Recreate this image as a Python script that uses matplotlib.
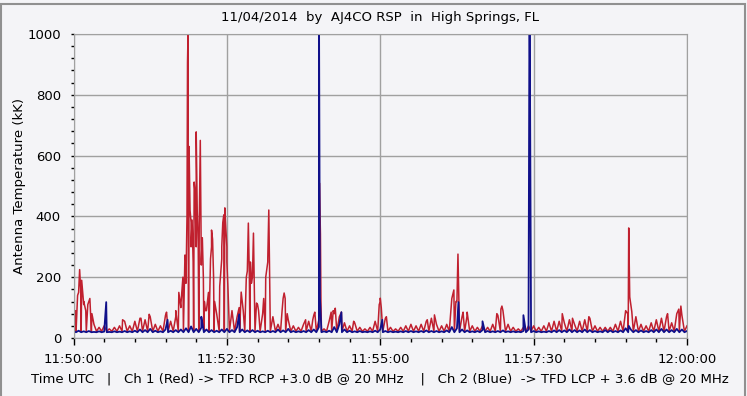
import numpy as np
import matplotlib
matplotlib.use("Agg")
import matplotlib.pyplot as plt
from matplotlib.ticker import MultipleLocator, FuncFormatter
from matplotlib.patches import Rectangle

# seconds after 11:50:00 UTC
grass_t = np.arange(0, 601, 5)
red_grass = [60, 150, 110, 120, 45, 35, 40, 30, 35, 40,
             55, 40, 55, 65, 60, 70, 45, 40, 75, 55,
             70, 100, 250, 380, 300, 240, 90, 300, 80, 260,
             300, 90, 70, 120, 220, 200, 110, 80, 250, 70,
             45, 130, 60, 40, 35, 45, 55, 75, 60, 30,
             55, 80, 70, 50, 40, 50, 35, 30, 35, 55,
             120, 65, 35, 30, 35, 40, 45, 40, 45, 55,
             65, 45, 40, 45, 130, 120, 70, 75, 40, 35,
             40, 35, 45, 75, 90, 45, 35, 30, 35, 40,
             40, 35, 40, 50, 55, 55, 50, 60, 45, 55,
             60, 65, 40, 35, 35, 35, 45, 55, 90, 110,
             70, 45, 40, 50, 60, 65, 70, 50, 80, 75, 40]
blue_grass = [22, 24, 22, 23, 20, 22, 21, 20, 22, 21,
              23, 22, 24, 28, 26, 30, 24, 22, 28, 24,
              26, 28, 32, 38, 30, 34, 28, 26, 24, 28,
              30, 26, 36, 28, 25, 26, 24, 22, 24, 23,
              28, 25, 30, 23, 22, 23, 26, 28, 36, 22,
              24, 36, 45, 28, 24, 22, 23, 21, 22, 24,
              28, 23, 22, 21, 22, 23, 23, 22, 23, 25,
              23, 23, 22, 25, 36, 32, 28, 25, 22, 23,
              26, 23, 22, 23, 25, 22, 22, 21, 23, 28,
              23, 22, 21, 23, 25, 26, 25, 28, 26, 25,
              28, 26, 23, 22, 26, 25, 23, 25, 32, 28,
              26, 25, 23, 26, 28, 30, 28, 26, 30, 28, 23]

red_peak_t = [2, 4, 6, 7, 8, 10, 12, 14, 16, 18, 48, 66, 74, 91,
              100, 103, 105, 107, 109, 110, 111, 111.5, 112, 113, 114, 115, 116,
              117, 118, 119, 120, 121, 122, 123, 124, 125, 126, 127, 128, 129,
              132, 134, 135, 136, 137, 138,
              143, 145, 146, 147, 148, 149, 150, 151,
              162, 164, 166, 169, 171, 172, 173, 174, 176, 177, 179, 181,
              186, 188, 190, 191, 192, 204, 206, 207, 209,
              227, 234, 236, 240.5, 241.5, 242, 252, 254, 256, 262, 274,
              299, 300, 301, 306, 346, 353, 370, 372, 374, 376, 377, 381, 385,
              414, 418, 419, 420, 478, 488, 504, 542, 543, 544, 546, 581, 592, 594]
red_peak_v = [90, 140, 225, 160, 190, 120, 90, 110, 130, 80, 60, 65, 78, 85,
              90, 150, 108, 200, 273, 180, 400, 907, 1000, 630, 420, 300, 388,
              250, 513, 475, 678, 420, 300, 380, 650, 260, 330, 200, 120, 90,
              150, 260, 355, 325, 200, 120,
              170, 300, 380, 405, 428, 360, 250, 170,
              100, 151, 90, 200, 378, 200, 250, 180, 345, 140, 115, 90,
              130, 200, 260, 421, 160, 90, 148, 130, 80,
              60, 60, 85, 510, 342, 120, 85, 90, 98, 85, 55,
              110, 131, 100, 70, 60, 76, 130, 158, 120, 276, 100, 85, 85,
              80, 95, 105, 90, 80, 65, 70, 80, 362, 135, 87, 80, 95, 105]
blue_peak_t = [32, 92, 125, 162, 240, 241, 262, 302, 376.5, 400, 440, 446, 543]
blue_peak_v = [118, 60, 70, 78, 1200, 135, 85, 60, 118, 55, 75, 1200, 40]

red_floor = 22
blue_floor = 19


def build(peak_t, peak_v, grass, floor):
    t = list(grass_t) + list(grass_t[:-1] + 2.5) + list(peak_t)
    v = list(grass) + [floor] * (len(grass_t) - 1) + list(peak_v)
    order = np.argsort(t, kind="stable")
    return np.array(t)[order], np.array(v)[order]


rt, rv = build(red_peak_t, red_peak_v, red_grass, red_floor)
bt, bv = build(blue_peak_t, blue_peak_v, blue_grass, blue_floor)

bg = "#f4f4f7"
fig = plt.figure(figsize=(7.47, 3.96), dpi=100, facecolor=bg)
ax = fig.add_axes([73.5 / 747, 58 / 396, 613.5 / 747, 304 / 396])
ax.set_facecolor(bg)

ax.plot(rt, rv, color="#c0202f", lw=1.1)
ax.plot(bt, bv, color="#10108a", lw=1.3)

ax.set_xlim(0, 600)
ax.set_ylim(0, 1000)
ax.xaxis.set_major_locator(MultipleLocator(150))
ax.xaxis.set_minor_locator(MultipleLocator(30))
ax.yaxis.set_major_locator(MultipleLocator(200))
ax.yaxis.set_minor_locator(MultipleLocator(40))


def hms(x, pos):
    s = int(round(x)) + 11 * 3600 + 50 * 60
    return "%d:%02d:%02d" % (s // 3600, (s // 60) % 60, s % 60)


ax.xaxis.set_major_formatter(FuncFormatter(hms))
ax.grid(True, which="major", color="#a0a0a0", lw=1.0)
for sp in ax.spines.values():
    sp.set_color("#a0a0a0")
ax.tick_params(which="major", length=5, width=1, labelsize=9.5, colors="black")
ax.tick_params(which="minor", length=3, width=1, colors="black")
ax.tick_params(axis="x", which="major", pad=6)
ax.tick_params(axis="y", which="both", length=2, pad=7)

ax.set_ylabel("Antenna Temperature (kK)", fontsize=9.5, labelpad=1)
ax.set_title("11/04/2014  by  AJ4CO RSP  in  High Springs, FL", fontsize=9.5, pad=9)
fig.text(380 / 747, 1 - 379 / 396,
         "Time UTC   |   Ch 1 (Red) -> TFD RCP +3.0 dB @ 20 MHz    |   Ch 2 (Blue)  -> TFD LCP + 3.6 dB @ 20 MHz",
         ha="center", va="center", fontsize=9.5)

fig.patches.append(Rectangle((1 / 747, -0.01), 744 / 747, 1.0 - 0.5 / 396, transform=fig.transFigure,
                             fill=False, edgecolor="#909090", lw=1.5))

fig.savefig("out.png", dpi=100, facecolor=bg)
